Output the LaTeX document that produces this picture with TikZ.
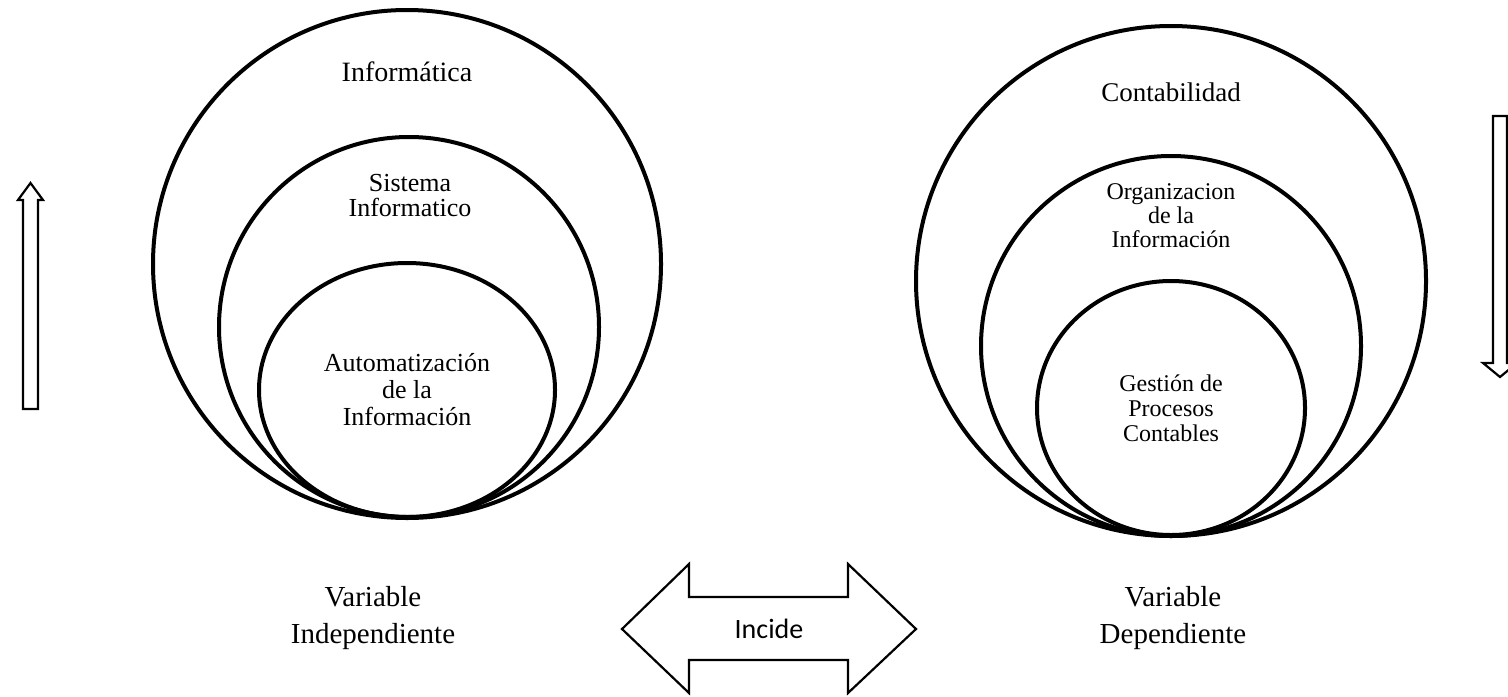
\documentclass[tikz,border=0pt]{standalone}
\usepackage{fontspec}
\setmainfont{Liberation Serif}
\newfontfamily\carlito{Carlito}

\begin{document}
\begin{tikzpicture}[x=0.5pt,y=0.5pt]

\tikzset{
  ring/.style={line width=2pt},
  blockarrow/.style={line width=1.1pt, line join=miter},
  caption/.style={align=center, inner sep=0pt}
}

\def\infcircle{(407,-264) circle (254)}
\def\siscircle{(409,-327) circle (190)}
\def\autcircle{(407,-390) ellipse (148 and 127)}
\def\concircle{(1171,-281) circle (255)}
\def\orgcircle{(1171,-346) circle (190)}
\def\gescircle{(1171,-408) ellipse (134 and 127)}

\useasboundingbox (0,0) rectangle (1508,-696);

\draw[ring] \infcircle;
\draw[ring] \siscircle;
\draw[ring] \autcircle;
\draw[ring] \concircle;
\draw[ring] \orgcircle;
\draw[ring] \gescircle;

\node[caption, font=\fontsize{14}{16}\selectfont] (informatica) at (407,-72) {Informática};
\node[caption, font=\fontsize{13}{12.5}\selectfont] (sistema) at (410,-196) {Sistema\\Informatico};
\node[caption, font=\fontsize{13}{13.5}\selectfont] (automat) at (407,-390) {Automatización\\de la\\Información};
\node[caption, font=\fontsize{13.5}{16}\selectfont] (contab) at (1171,-92) {Contabilidad};
\node[caption, font=\fontsize{12}{12}\selectfont] (organiz) at (1171,-216) {Organizacion\\de la\\Información};
\node[caption, font=\fontsize{12}{12.5}\selectfont] (gestion) at (1171,-408) {Gestión de\\Procesos\\Contables};

\node[caption, font=\fontsize{14.5}{18.5}\selectfont] (indep) at (373,-618) {Variable\\Independiente};
\node[caption, font=\fontsize{14.5}{18.5}\selectfont] (dep) at (1173,-618) {Variable\\Dependiente};

% flecha doble
\draw[blockarrow] (622,-629) -- (689,-564) -- (689,-597) -- (848,-597) -- (848,-564)
  -- (916,-629) -- (848,-693) -- (848,-660) -- (689,-660) -- (689,-693) -- cycle;
\node[font=\carlito\fontsize{14}{16}\selectfont] (incide) at (769,-629) {Incide};

% flechas verticales
\draw[blockarrow] (23,-409) -- (23,-200) -- (18,-200) -- (30.5,-183) -- (43,-200)
  -- (38,-200) -- (38,-409) -- cycle;
\draw[blockarrow] (1493,-116) -- (1493,-363) -- (1483,-363) -- (1500,-377) -- (1517,-363)
  -- (1507,-363) -- (1507,-116) -- cycle;

\end{tikzpicture}
\end{document}
